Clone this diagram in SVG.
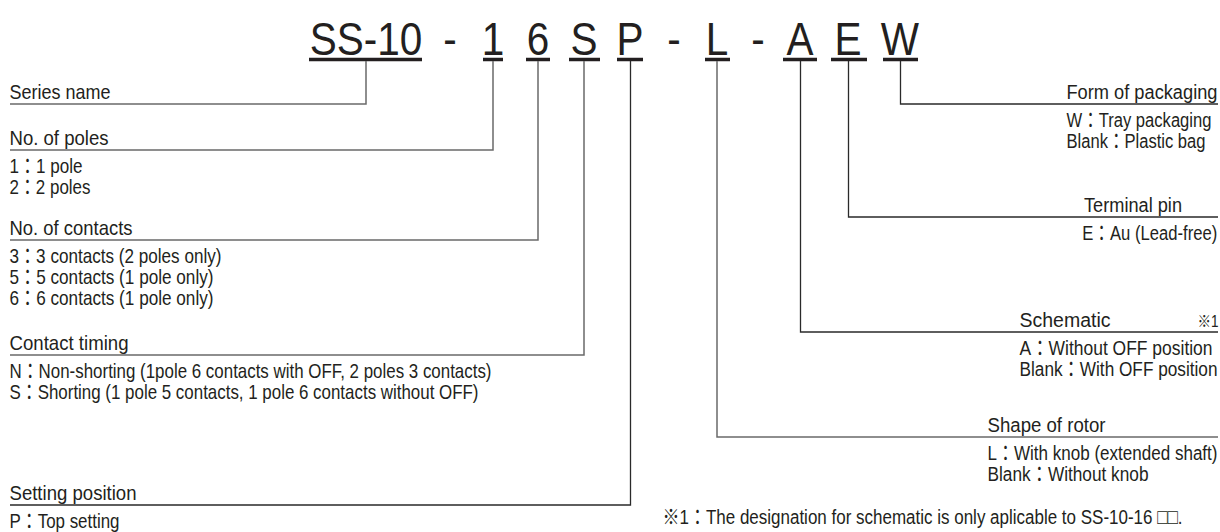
<svg xmlns="http://www.w3.org/2000/svg" width="1220" height="532" viewBox="0 0 1220 532">
<style>
text{font-family:"Liberation Sans","Noto Sans CJK JP",sans-serif;fill:#231f20}
.big{font-size:46px;text-anchor:middle}
.t text{font-size:21px}
.t text.sm{font-size:16px}
.ul line{stroke:#231f20;stroke-width:3.5}
.cg{fill:none;stroke:#6a6a6a;stroke-width:1.5}
.cb{fill:none;stroke:#2a2a2a;stroke-width:1.3}
</style>
<rect width="1220" height="532" fill="#fff"/>
<g id="code">
  <g class="big" transform="scale(0.88 1)">
    <text x="415.9" y="55">SS-10</text>
    <text x="511.4" y="55">-</text>
    <text x="560.2" y="55">1</text>
    <text x="611.4" y="55">6</text>
    <text x="663.6" y="55">S</text>
    <text x="715.9" y="55">P</text>
    <text x="765.9" y="55">-</text>
    <text x="814.8" y="55">L</text>
    <text x="861.4" y="55">-</text>
    <text x="909.1" y="55">A</text>
    <text x="963.6" y="55">E</text>
    <text x="1022.7" y="55">W</text>
  </g>
  <g class="ul">
    <line x1="309" y1="59.5" x2="422" y2="59.5"/>
    <line x1="483" y1="59.5" x2="503" y2="59.5"/>
    <line x1="526" y1="59.5" x2="550" y2="59.5"/>
    <line x1="569" y1="59.5" x2="600" y2="59.5"/>
    <line x1="617" y1="59.5" x2="643" y2="59.5"/>
    <line x1="705" y1="59.5" x2="730" y2="59.5"/>
    <line x1="783" y1="59.5" x2="817" y2="59.5"/>
    <line x1="831" y1="59.5" x2="867" y2="59.5"/>
    <line x1="883" y1="59.5" x2="918" y2="59.5"/>
  </g>
</g>
<g id="connectors">
  <path class="cg" d="M366,61 V104 H10"/>
  <path class="cg" d="M493,61 V150 H10"/>
  <path class="cg" d="M538,61 V240 H10"/>
  <path class="cg" d="M584,61 V355 H10"/>
  <path class="cb" d="M630.5,61 V505 H10"/>
  <path class="cg" d="M717,61 V437 H1218"/>
  <path class="cb" d="M800.5,61 V332 H1218"/>
  <path class="cb" d="M848.5,61 V217 H1218"/>
  <path class="cb" d="M900.5,61 V104 H1218"/>
</g>
<g id="series-name" class="t">
  <text x="9.5" y="99" textLength="101" lengthAdjust="spacingAndGlyphs">Series name</text>
</g>
<g id="no-of-poles" class="t">
  <text x="9.5" y="145" textLength="99" lengthAdjust="spacingAndGlyphs">No. of poles</text>
  <text x="9.5" y="173" textLength="73" lengthAdjust="spacingAndGlyphs">1：1 pole</text>
  <text x="9.5" y="194" textLength="81" lengthAdjust="spacingAndGlyphs">2：2 poles</text>
</g>
<g id="no-of-contacts" class="t">
  <text x="9.5" y="235" textLength="123" lengthAdjust="spacingAndGlyphs">No. of contacts</text>
  <text x="9.5" y="263" textLength="212" lengthAdjust="spacingAndGlyphs">3：3 contacts (2 poles only)</text>
  <text x="9.5" y="284" textLength="204" lengthAdjust="spacingAndGlyphs">5：5 contacts (1 pole only)</text>
  <text x="9.5" y="305" textLength="204" lengthAdjust="spacingAndGlyphs">6：6 contacts (1 pole only)</text>
</g>
<g id="contact-timing" class="t">
  <text x="9.5" y="350" textLength="119" lengthAdjust="spacingAndGlyphs">Contact timing</text>
  <text x="9.5" y="378" textLength="482" lengthAdjust="spacingAndGlyphs">N：Non-shorting (1pole 6 contacts with OFF, 2 poles 3 contacts)</text>
  <text x="9.5" y="399" textLength="469" lengthAdjust="spacingAndGlyphs">S：Shorting (1 pole 5 contacts, 1 pole 6 contacts without OFF)</text>
</g>
<g id="setting-position" class="t">
  <text x="9.5" y="500" textLength="127" lengthAdjust="spacingAndGlyphs">Setting position</text>
  <text x="9.5" y="528" textLength="110" lengthAdjust="spacingAndGlyphs">P：Top setting</text>
</g>
<g id="form-of-packaging" class="t" transform="scale(0.8 1)">
  <text x="1333.1" y="99" textLength="188.75" lengthAdjust="spacingAndGlyphs">Form of packaging</text>
  <text x="1333.1" y="127" textLength="181.25" lengthAdjust="spacingAndGlyphs">W：Tray packaging</text>
  <text x="1333.1" y="148" textLength="173.75" lengthAdjust="spacingAndGlyphs">Blank：Plastic bag</text>
</g>
<g id="terminal-pin" class="t" transform="scale(0.8 1)">
  <text x="1355" y="212" textLength="122.5" lengthAdjust="spacingAndGlyphs">Terminal pin</text>
  <text x="1352.8" y="240" textLength="168.75" lengthAdjust="spacingAndGlyphs">E：Au (Lead-free)</text>
</g>
<g id="schematic" class="t" transform="scale(0.8 1)">
  <text x="1274.4" y="327" textLength="113.75" lengthAdjust="spacingAndGlyphs">Schematic</text>
  <text class="sm" x="1497" y="327" textLength="26.25" lengthAdjust="spacingAndGlyphs">※1</text>
  <text x="1274.4" y="355" textLength="241.25" lengthAdjust="spacingAndGlyphs">A：Without OFF position</text>
  <text x="1274.4" y="376" textLength="247.5" lengthAdjust="spacingAndGlyphs">Blank：With OFF position</text>
</g>
<g id="shape-of-rotor" class="t" transform="scale(0.8 1)">
  <text x="1234.4" y="432" textLength="147.5" lengthAdjust="spacingAndGlyphs">Shape of rotor</text>
  <text x="1234.4" y="460" textLength="287.5" lengthAdjust="spacingAndGlyphs">L：With knob (extended shaft)</text>
  <text x="1234.4" y="481" textLength="201.25" lengthAdjust="spacingAndGlyphs">Blank：Without knob</text>
</g>
<g id="footnote" class="t" transform="scale(0.8 1)">
  <text x="828.1" y="524" textLength="650" lengthAdjust="spacingAndGlyphs">※1：The designation for schematic is only aplicable to SS-10-16 □□.</text>
</g>
</svg>
